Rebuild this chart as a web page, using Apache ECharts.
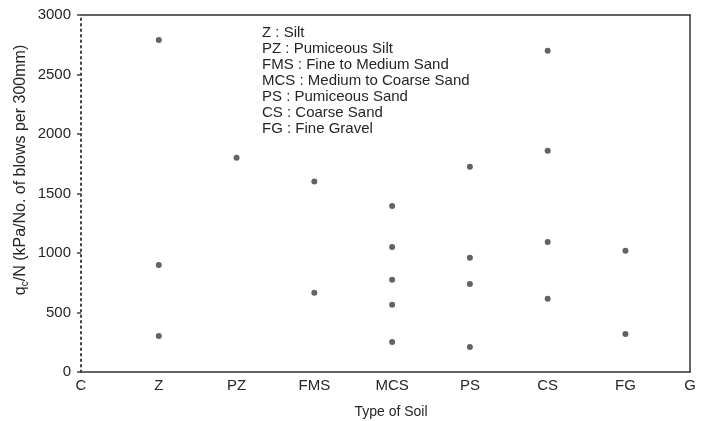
<!DOCTYPE html>
<html>
<head>
<meta charset="utf-8">
<script src="https://cdn.jsdelivr.net/npm/echarts@6/dist/echarts.min.js"></script>
<style>
  html, body { margin: 0; padding: 0; background: #fff; }
  #main { width: 711px; height: 421px; }
</style>
</head>
<body>
<div id="main"></div>
<script>
// soil types along the x axis (C and G are the end labels)
var soilLabels = ['C', 'Z', 'PZ', 'FMS', 'MCS', 'PS', 'CS', 'FG', 'G'];
var labelPos = [0, 1, 2, 3, 4, 5, 6, 7, 7.83];

// qc/N values, per soil type
var zVals = [2790, 900, 303];
var pzVals = [1800];
var fmsVals = [1600, 665];
var mcsVals = [1395, 1050, 775, 565, 252];
var psVals = [1725, 960, 740, 210];
var csVals = [2700, 1860, 1092, 615];
var fgVals = [1018, 320];

var yTicks = [0, 500, 1000, 1500, 2000, 2500, 3000];

var legendLines = [
  'Z : Silt',
  'PZ : Pumiceous Silt',
  'FMS : Fine to Medium Sand',
  'MCS : Medium to Coarse Sand',
  'PS : Pumiceous Sand',
  'CS : Coarse Sand',
  'FG : Fine Gravel'
];

var groups = [zVals, pzVals, fmsVals, mcsVals, psVals, csVals, fgVals];
var points = [];
groups.forEach(function (vals, i) {
  vals.forEach(function (v) { points.push([i + 1, v]); });
});

var font = "'Liberation Sans', Arial, sans-serif";
var ink = '#262626';
var myChart = echarts.init(document.getElementById('main'));

var option = {
  backgroundColor: '#fff',
  animation: false,
  textStyle: { fontFamily: font },
  grid: { left: 81, right: 21, top: 15, bottom: 49, outerBoundsMode: 'none' },
  xAxis: [
    {
      type: 'value',
      min: 0,
      max: 7.83,
      position: 'bottom',
      axisLine: { show: true, onZero: false, lineStyle: { color: '#333', width: 1.5 } },
      axisTick: { show: false },
      splitLine: { show: false },
      axisLabel: {
        customValues: labelPos,
        color: ink,
        fontSize: 15,
        margin: 6,
        formatter: function (val) {
          var idx = labelPos.indexOf(val);
          return idx >= 0 ? soilLabels[idx] : '';
        }
      },
      name: 'Type of Soil',
      nameLocation: 'middle',
      nameGap: 33,
      nameTextStyle: { color: ink, fontSize: 14, padding: [0, 0, 0, 11] }
    },
    {
      type: 'value',
      min: 0,
      max: 7.83,
      position: 'top',
      axisLine: { show: true, onZero: false, lineStyle: { color: '#333', width: 1.5 } },
      axisTick: { show: false },
      axisLabel: { show: false },
      splitLine: { show: false }
    }
  ],
  yAxis: [
    {
      type: 'value',
      min: 0,
      max: 3000,
      interval: 500,
      position: 'left',
      axisLine: { show: true, onZero: false, lineStyle: { color: '#444', type: [1.5, 4], width: 2 } },
      axisTick: { show: true, length: 4, lineStyle: { color: '#444', width: 1.5 } },
      splitLine: { show: false },
      axisLabel: {
        customValues: yTicks,
        color: ink,
        fontSize: 15,
        margin: 10,
        formatter: function (v) { return String(v); }
      }
    },
    {
      type: 'value',
      min: 0,
      max: 3000,
      position: 'right',
      axisLine: { show: true, onZero: false, lineStyle: { color: '#333', width: 1.5 } },
      axisTick: { show: false },
      axisLabel: { show: false },
      splitLine: { show: false }
    }
  ],
  graphic: [
    {
      type: 'text',
      left: 262,
      top: 25,
      style: {
        text: legendLines.join('\n'),
        fill: ink,
        fontSize: 15,
        lineHeight: 16,
        fontFamily: font
      }
    },
    {
      type: 'text',
      x: 21,
      y: 170,
      rotation: Math.PI / 2,
      style: {
        text: '{q|q}{sub|c}{q|/N (kPa/No. of blows per 300mm)}',
        align: 'center',
        verticalAlign: 'middle',
        rich: {
          q: { fontSize: 16, fill: ink, fontFamily: font },
          sub: { fontSize: 10, fill: ink, fontFamily: font, padding: [8, 0, 0, 0] }
        }
      }
    }
  ],
  series: [
    {
      type: 'scatter',
      xAxisIndex: 0,
      yAxisIndex: 0,
      data: points,
      symbol: 'circle',
      symbolSize: 6,
      itemStyle: { color: '#3c3c3c' }
    }
  ]
};

myChart.setOption(option);
</script>
</body>
</html>
